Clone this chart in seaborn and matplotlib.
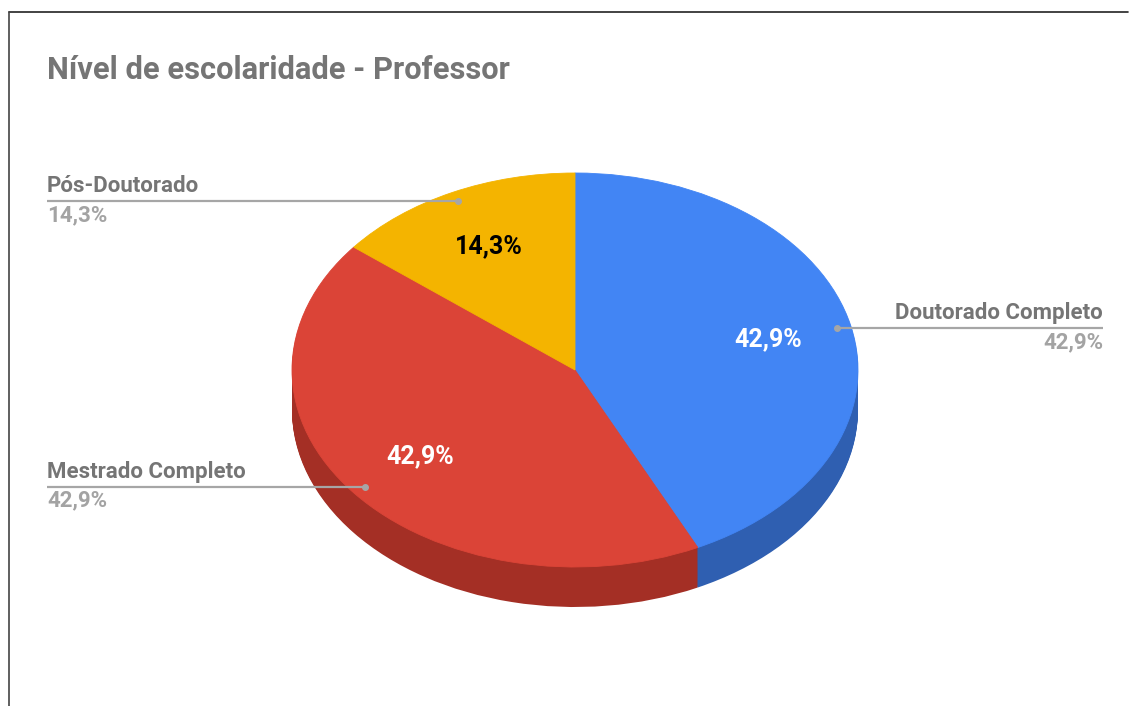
import numpy as np
import seaborn as sns
import matplotlib.pyplot as plt
from matplotlib.lines import Line2D
from matplotlib.transforms import blended_transform_factory

# Dados
categorias = ["Doutorado Completo", "Mestrado Completo", "Pós-Doutorado"]
contagens = [3, 3, 1]
cores_topo = ["#4285F4", "#DB4437", "#F4B400"]
cores_lado = ["#2F5FB1", "#A42F25", "#B88A00"]
cores_pct = ["white", "white", "black"]

sns.set_theme(style="white")
plt.rcParams["font.family"] = ["Roboto", "DejaVu Sans"]

W, H = 1130, 706
fig = plt.figure(figsize=(W / 100, H / 100), dpi=100)
ax = fig.add_axes([0, 0, 1, 1])

# geometria (pixels) da elipse do topo
cx, cy, rx, ry, prof = 575, 370, 283, 197, 40
xlim = (-cx / rx, (W - cx) / rx)
ylim = (-(H - cy) / ry, cy / ry)

fmt = lambda p: f"{p:.1f}".replace(".", ",") + "%"

# lateral (camadas deslocadas para baixo)
for d in np.linspace(prof / ry, 0.0, 42)[:-1]:
    ax.pie(contagens, colors=cores_lado, startangle=90, counterclock=False,
           center=(0, -d), radius=1, wedgeprops=dict(linewidth=0))

# topo
wedges, _, autotexts = ax.pie(
    contagens, colors=cores_topo, startangle=90, counterclock=False,
    radius=1, autopct=fmt, pctdistance=0.7,
    wedgeprops=dict(linewidth=0.6),
    textprops=dict(fontsize=18, fontweight="bold"))
for w in wedges:
    w.set_edgecolor(w.get_facecolor())
for t, c in zip(autotexts, cores_pct):
    t.set_color(c)

ax.set_aspect("auto")
ax.set_xlim(*xlim)
ax.set_ylim(*ylim)
ax.axis("off")

# rótulos externos com linhas de chamada
tr = blended_transform_factory(ax.transAxes, ax.transData)
total = sum(contagens)
for w, nome, v in zip(wedges, categorias, contagens):
    ang = np.deg2rad((w.theta1 + w.theta2) / 2)
    px, py = 0.95 * np.cos(ang), 0.95 * np.sin(ang)
    xdot = (px - xlim[0]) / (xlim[1] - xlim[0])
    if px > 0:
        xt, ha = 1103 / W, "right"
        xs = [xdot, xt]
    else:
        xt, ha = 47 / W, "left"
        xs = [xt, xdot]
    ax.plot(xs, [py, py], color="#a6a6a6", lw=1.6, transform=tr,
            solid_capstyle="butt")
    ax.plot([xdot], [py], "o", color="#a6a6a6", ms=4, transform=tr)
    ax.text(xt, py + 4 / ry, nome, ha=ha, va="bottom", transform=tr,
            fontsize=16, fontweight="bold", color="#757575")
    ax.text(xt, py - 3 / ry, fmt(100 * v / total), ha=ha, va="top",
            transform=tr, fontsize=16, fontweight="bold", color="#a3a3a3")

# título
fig.text(47 / W, 1 - 70 / H, "Nível de escolaridade - Professor",
         fontsize=22.2, fontweight="bold", color="#757575", va="center")

# moldura
fig.add_artist(Line2D([9 / W, 1128 / W], [1 - 12 / H, 1 - 12 / H],
                      color="#222222", lw=1.2))
fig.add_artist(Line2D([9 / W, 9 / W], [0, 1 - 12 / H],
                      color="#444444", lw=1.2))

fig.savefig("out.png", dpi=100, facecolor="white")
